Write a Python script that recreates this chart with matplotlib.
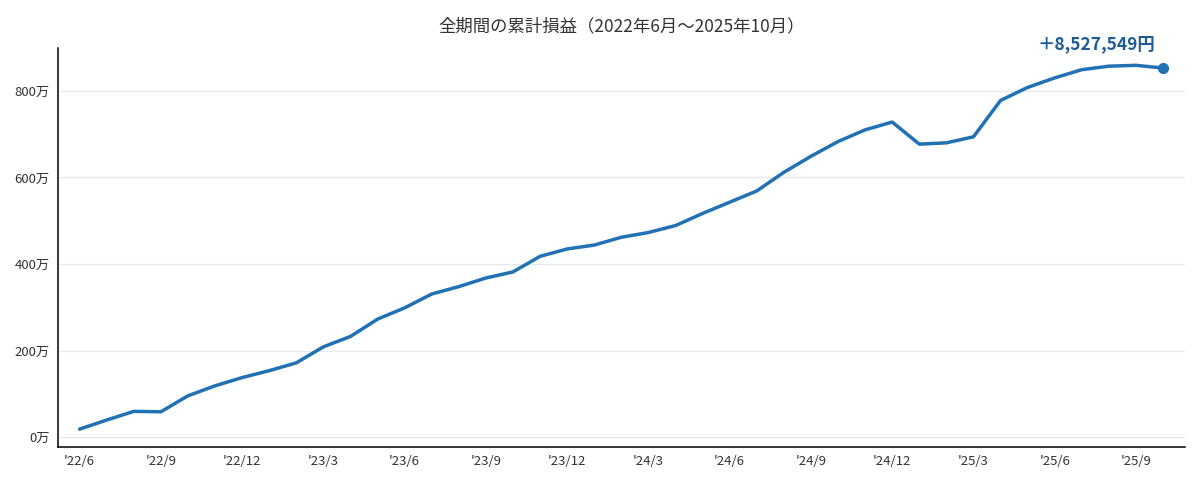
import matplotlib
matplotlib.use("Agg")
from matplotlib import pyplot as plt

plt.rcParams['font.family'] = ['Noto Sans CJK JP', 'DejaVu Sans']

# monthly cumulative P/L, unit: 万円 (Jun 2022 - Oct 2025)
years = [2022] * 7 + [2023] * 12 + [2024] * 12 + [2025] * 10
months = list(range(6, 13)) + list(range(1, 13)) * 2 + list(range(1, 11))
cumulative = [19, 40, 60, 59, 96, 119, 138,
              154, 172, 209, 233, 273, 299, 331, 348, 368, 382, 418, 435,
              444, 462, 473, 489, 517, 543, 569, 612, 649, 683, 710, 728,
              677, 680, 694, 778, 808, 830, 849, 857, 859, 852.7549]
final_label = "＋8,527,549円"
yticks = [0, 200, 400, 600, 800]

line_color = "#2171b5"

def makeChart():
    fig = plt.figure(figsize=(12, 4.8), dpi=100)
    ax = fig.add_axes([0.0483, 0.069, 0.939, 0.831])
    x = list(range(len(cumulative)))
    ax.plot(x, cumulative, color=line_color, linewidth=2.5, solid_capstyle='round')
    ax.plot(x[-1], cumulative[-1], 'o', color=line_color, markersize=7)
    ax.annotate(final_label, (x[-1], cumulative[-1]), xytext=(-6, 11),
                textcoords='offset points', ha='right', va='bottom',
                fontsize=12.5, fontweight='bold', color='#1f5b94')

    tick_idx = list(range(0, len(x), 3))
    ax.set_xticks(tick_idx)
    ax.set_xticklabels([f"'{years[i] % 100}/{months[i]}" for i in tick_idx])
    ax.set_yticks(yticks)
    ax.set_yticklabels([f"{v}万" for v in yticks])
    ax.set_xlim(-0.8, len(x) - 1 + 0.8)
    ax.set_ylim(-22, 899)

    ax.tick_params(length=0, labelsize=9.5, colors='#333333', pad=6)
    ax.grid(axis='y', color='#e8e8e8', linewidth=0.9)
    ax.set_axisbelow(True)
    for s in ['top', 'right']:
        ax.spines[s].set_visible(False)
    for s in ['left', 'bottom']:
        ax.spines[s].set_color('black')
        ax.spines[s].set_linewidth(1.1)

    ax.set_title("全期間の累計損益（2022年6月～2025年10月）", fontsize=12.5,
                 color='#333333', pad=12)
    fig.savefig("out.png")

if __name__ == "__main__":
    makeChart()
